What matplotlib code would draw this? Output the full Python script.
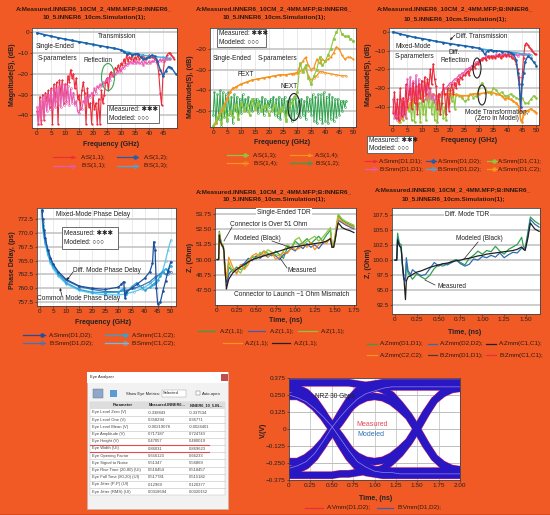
#!/usr/bin/env python
# coding: utf-8

import numpy as np
import matplotlib
matplotlib.use('Agg')
import matplotlib.pyplot as plt
from matplotlib.patches import Ellipse, Rectangle

W, H = 550, 515
ORANGE = '#F15A25'
RED = '#EC2B3C'
PINK = '#E85BB0'
BLUE = '#1F5FA8'
SKY = '#3DAEE0'
LIME = '#8CC63F'
GREEN = '#2FA24B'
AMBER = '#F7941E'
TITLE_A = 'A:Measured.INNER6_10CM_2_4MM.MFP;B:INNER6_'
TITLE_B = '10_5.INNER6_10cm.Simulation(1);'

# single-ended through and reflection
s11_meas = [-38, -44, -31, -44, -30, -42, -29, -33, -28, -36,
            -27, -44, -25, -33, -24, -44, -23, -30, -23, -34,
            -25, -33, -21, -24, -18, -22, -20, -27, -22, -32,
            -30, -37, -28, -24, -29, -44, -27, -36, -34, -44,
            -30, -37, -34, -44, -32, -44, -28, -34, -30, -24,
            -22, -28, -20, -19, -21, -20, -17, -18, -16, -18,
            -15, -16, -13, -15, -11, -14, -12, -13, -11, -14,
            -12, -13, -11, -13, -12, -12, -11, -13, -13, -12,
            -11, -12, -12, -12, -13, -13, -15, -20, -29, -35,
            -20, -14, -12, -11, -10, -10, -11, -12, -13]
s11_sim = [-36, -44, -33, -42, -31, -40, -30, -38, -30, -37,
           -28, -37, -27, -36, -27, -35, -26, -36, -25, -35,
           -25, -34, -26, -35, -27, -34, -29, -35, -33, -38,
           -39, -36, -37, -33, -34, -31, -33, -30, -31, -29,
           -30, -27, -29, -26, -27, -25, -26, -24, -25, -23,
           -23, -22, -23, -21, -21, -20, -20, -19, -19, -18,
           -19, -17, -17, -16, -16, -15, -15, -14, -15, -15,
           -14, -15, -14, -15, -15, -14, -16, -14, -15, -15,
           -14, -15, -14, -14, -14, -13, -15, -14, -13, -14,
           -13, -14, -13, -13, -13, -13]
s12_freq = [0, 2.5, 5, 7.5, 10, 12.5, 15, 17.5, 20, 22.5, 25, 27.5, 30, 31, 32, 33, 34, 35, 36, 37,
            38, 39, 40, 41, 42, 43, 44, 45, 46, 47, 48, 49.5]
s12_meas = [-0.3, -1.2, -1.9, -2.7, -3.3, -4.0, -4.6, -5.2, -5.9, -6.5, -7.1, -7.7, -8.5, -9.3, -10.3,
            -10.2, -11, -10.5, -10.3, -12, -13, -12.5, -12, -11, -11.5, -14, -18, -21, -18.5, -16.5, -17, -20]
s13_freq = [0, 2.5, 5, 7.5, 10, 12.5, 15, 17.5, 20, 22.5, 25, 27.5, 30, 32.5, 35, 37.5, 40, 42.5, 45, 47.5]
s13_sim = [-0.3, -1.2, -1.9, -2.7, -3.4, -4.0, -4.7, -5.3, -6.0, -6.6, -7.2, -7.8, -8.5, -9.7, -10.5,
           -11, -11.5, -11.8, -12.1, -12.6]

# crosstalk
xt_freq = [0, 1, 2, 3, 4, 5, 6, 7, 8, 10, 12, 14, 16, 18, 20, 22, 24, 26, 28, 29, 30, 31, 32, 33, 34,
           35, 36, 37, 38, 39, 40, 41, 42, 43, 44, 45, 46, 47, 48, 49, 50]
fext_meas = [-58, -56, -52, -50, -47, -44, -41, -39, -38.5, -37, -36, -35, -34.5, -34, -33.5, -33, -32.5, -32.5,
             -32, -32, -31.5, -28, -26, -24, -28, -30, -29, -25, -27, -25, -26, -25, -24, -22, -19, -20, -23,
             -25, -24, -24, -25]
fext_sim_freq = [0, 1, 2, 3, 4, 5, 6, 7, 8, 10, 12, 14, 16, 18, 20, 22, 24, 26, 28, 30, 31, 32, 33, 34, 35,
                 36, 37, 38, 39, 40, 42, 44, 46, 47.5]
fext_sim = [-58, -56, -52, -50, -47, -44, -41, -39, -38.5, -37, -36, -35, -34.5, -34, -33.5, -33, -32.5, -32.5,
            -32, -31.5, -31, -30, -29, -33, -35, -34, -33, -31, -31, -31.5, -32, -32.5, -33, -33]
next_meas = [-57, -55, -52, -56, -48, -54, -50, -53, -47, -54,
             -46, -50, -47, -52, -44, -49, -46, -50, -48, -47,
             -52, -49, -47, -51, -50, -48, -55, -47, -46, -43,
             -41, -27, -31, -28, -34, -37, -33, -30, -24, -28,
             -26, -23, -20, -15, -12, -9, -13, -14, -14, -15, -16]
next_sim = [-52, -41, -56, -42, -54, -40, -57, -41, -53, -42, -55, -41, -52, -43, -56, -42, -50, -43, -54, -44,
            -51, -42, -49, -44, -50, -43, -49, -45, -50, -44, -48, -44, -51, -45, -49, -43, -52, -44, -50, -45,
            -48, -44, -50, -43, -52, -44, -53, -43, -54, -44, -50, -43, -54, -45, -52, -44, -55, -44, -54, -43,
            -51, -45, -53, -44, -52, -45, -54, -43, -50, -44, -52, -42, -55, -43, -56, -42, -54, -42, -56, -41,
            -55, -43, -56, -42, -54, -43, -55, -44, -53, -44, -52, -45, -50, -45, -48, -45]

# mixed-mode
sdd11_meas = [-43, -32, -46, -36, -47, -30, -45, -35, -44, -28,
              -40, -33, -30, -41, -27, -38, -29, -44, -28, -35,
              -26, -37, -24, -33, -25, -30, -20, -28, -17, -25,
              -29, -41, -33, -44, -38, -28, -33, -44, -30, -42,
              -31, -28, -33, -27, -30, -25, -28, -24, -25, -23,
              -23, -22, -21, -23, -20, -20, -18, -19, -17, -17,
              -16, -15, -15, -14, -14, -15, -13, -14, -13, -14,
              -13, -14, -13, -13, -12, -14, -13, -13, -12, -13,
              -12, -13, -13, -14, -14, -15, -17, -20, -24, -42,
              -24, -14, -7, -6, -7, -8, -9, -10, -11, -12, -12]
sdd11_sim = [-36, -46, -38, -47, -40, -46, -36, -45, -37, -46,
             -25, -36, -24, -35, -26, -37, -23, -36, -25, -35,
             -26, -37, -27, -36, -28, -35, -30, -36, -33, -38,
             -34, -35, -33, -34, -32, -31, -30, -30, -29, -28,
             -27, -27, -26, -25, -25, -24, -23, -23, -22, -22,
             -21, -20, -20, -19, -19, -18, -18, -17, -16, -16,
             -15, -15, -14, -14, -14, -13, -13, -13, -13, -13,
             -13, -13, -12, -13, -12, -13, -12, -12, -12, -13,
             -12, -12, -12, -12, -13, -12, -12, -13, -12, -12,
             -12, -12, -12, -12, -12, -12]
sdd12_freq = [0, 2.5, 5, 7.5, 10, 12.5, 15, 17.5, 20, 22.5, 25, 27.5, 30, 31, 32, 33, 34, 35, 36, 38, 40, 41,
              42, 43, 43.5, 44, 44.5, 45, 45.5, 46, 47, 48, 49, 50]
sdd12_meas = [0, -1.1, -2, -2.9, -3.5, -4.2, -5, -5.7, -6.3, -6.9, -7.4, -8, -8.7, -9.5, -12, -10, -9.6, -10, -10,
              -10.5, -10.5, -11, -12, -15, -22, -28, -40, -28, -22, -16, -13, -14, -16, -18]
sdd12_sim_freq = [0, 2.5, 5, 7.5, 10, 12.5, 15, 17.5, 20, 22.5, 25, 27.5, 30, 32.5, 35, 37.5, 40, 42.5, 45, 48]
sdd12_sim = [0, -1.1, -2, -2.9, -3.6, -4.3, -5, -5.6, -6.3, -6.9, -7.5, -8.1, -8.8, -9.4, -10, -10.3, -10.6, -11,
             -11.6, -12.5]
sdc_freq = [2, 2.5, 3, 3.5, 4, 4.5, 5, 5.5, 6, 6.5, 7, 7.5, 8, 8.5, 9, 9.5, 10, 10.5, 11, 11.5, 12, 12.5, 13, 13.5,
            14, 14.5, 15, 15.5, 16, 16.5, 17, 17.5, 18, 18.5, 19, 19.5, 20, 20.5, 21, 21.5, 22, 23, 24, 25, 26,
            27, 28, 29, 30, 31, 32, 33, 34, 35, 36, 37, 38, 39, 40, 41, 42, 43, 44, 45, 46, 47, 48, 49, 50]
sdc_meas = [-46, -48, -42, -47, -40, -46, -37, -42, -39, -47, -36, -48, -35, -41, -38, -48, -33, -44, -36, -47,
            -33, -40, -30, -44, -33, -47, -36, -48, -38, -44, -33, -46, -40, -47, -31, -38, -30, -37, -32, -41,
            -33, -34, -35, -37, -36, -33, -35, -34, -30, -27, -30, -32, -33, -30, -31, -33, -32, -34, -34, -33,
            -34, -35, -36, -35, -38, -38, -36, -34, -35]
scd_freq = [2, 3, 4, 5, 6, 7, 8, 10, 12, 14, 16, 18, 20, 22, 24, 26, 28, 30, 32, 34, 36, 38, 39, 40, 41, 42, 43,
            44, 44.5, 45, 45.5, 46, 47, 48, 49, 50]
scd_meas = [-48, -46, -43, -41, -38, -37, -36, -34.5, -34, -33.5, -34, -33, -33, -33.5, -34, -34, -33, -33,
            -32.5, -32, -33, -34, -36, -35, -36, -37, -38, -40, -47, -48, -44, -42, -42, -41, -42, -43]

# phase delay
pd_freq = [0.8, 1, 1.5, 2, 3, 4, 5, 7, 10, 15, 20, 25, 30, 31, 32, 32.5, 33, 35, 37, 40, 42, 43, 43.5, 44, 44.5,
           45, 46, 47, 48, 49, 50]
pd_diff_meas = [774.2, 772.5, 770.5, 769, 767, 765.5, 764.4, 763, 761.6, 760.4, 760, 759.8, 760.2, 760.7, 761.2,
                758.3, 759.4, 760, 760.7, 761.8, 763, 764.5, 768.4, 767, 760, 757.2, 757.5, 759.5, 761.3, 763.2,
                764.8]
pd_comm_meas = [774, 771.5, 769.8, 768.3, 766.3, 765, 764, 762.5, 761, 759.8, 759.3, 759.2, 759.3, 759.6, 760,
                758.8, 759, 760.3, 761, 759.6, 760.2, 760.6, 760.8, 761, 761.2, 761.5, 762.2, 763, 763.5,
                763.2, 764]
pd_sim_freq = [0.8, 1, 1.5, 2, 3, 4, 5, 7, 10, 15, 20, 25, 30, 33, 36, 39, 42, 44, 46, 47, 48, 49, 50]
pd_diff_sim = [774, 772, 770.2, 768.8, 766.8, 765.3, 764.2, 762.7, 761.4, 760.3, 759.8, 759.4, 759.4, 759.6, 760,
               760.5, 761.2, 762, 762.6, 763, 762.5, 762.6, 763]
pd_comm_sim = [774, 771, 769.3, 768, 766, 764.6, 763.6, 762.2, 760.8, 759.6, 759.1, 758.8, 758.8, 759, 759.4,
               759.9, 760.8, 761.6, 762.6, 763.3, 765, 767, 768.7]

# single-ended TDR
tdr_time = [0, 0.02, 0.03, 0.04, 0.06, 0.08, 0.09, 0.10, 0.12, 0.13, 0.15,
            0.2, 0.25, 0.3, 0.35, 0.4, 0.45, 0.5, 0.55, 0.6, 0.65, 0.7, 0.75, 0.8, 0.85, 0.9, 0.95, 1.0, 1.05,
            1.1, 1.15, 1.2, 1.25, 1.3, 1.35, 1.4, 1.45,
            1.47, 1.49, 1.51, 1.53, 1.55, 1.6, 1.65, 1.7, 1.75]
z_green = [50, 50, 52.3, 51.8, 51.3, 51.1, 50.5, 49.2, 48.6, 48.3, 49.4,
           49.0, 49.4, 49.2, 49.3, 49.9, 50.2, 50.2, 50.4, 50.7, 50.5, 50.3, 50.7, 50.4, 50.1, 51.0, 50.9, 51.5,
           51.2, 51.4, 51.7, 51.3, 51.6, 51.9, 51.5, 52.0, 52.4,
           51.2, 51.2, 51.8, 52.8, 53.6, 53.2, 53.0, 52.85, 52.7]
z_blue = [50, 50, 52.0, 51.6, 51.2, 51.0, 50.4, 49.0, 48.3, 48.1, 48.8,
          49.2, 48.9, 49.5, 49.7, 50.1, 49.9, 50.3, 50.1, 50.4, 50.2, 50.5, 50.3, 50.0, 50.4, 50.6, 50.9, 50.7,
          51.1, 50.9, 51.3, 51.0, 51.2, 50.9, 51.3, 51.5, 51.7,
          51.0, 51.0, 51.6, 52.4, 53.2, 53.0, 52.8, 52.65, 52.5]
z_lime = [50, 50, 52.2, 51.7, 51.2, 51.2, 50.6, 49.3, 48.5, 48.8, 49.8,
          49.0, 49.2, 48.9, 49.5, 49.9, 50.3, 50.0, 50.6, 50.4, 50.8, 50.6, 50.4, 50.3, 50.7, 51.2, 51.0, 51.6,
          51.8, 51.2, 51.5, 51.7, 51.9, 51.5, 51.8, 52.2, 52.6,
          51.3, 51.1, 52.0, 53.0, 53.7, 53.3, 53.1, 52.95, 52.8]
z_amber = [50, 50, 52.1, 51.6, 51.1, 51.0, 50.5, 48.8, 48.4, 49.0, 50.2,
           49.4, 48.8, 49.6, 49.2, 49.6, 50.3, 50.5, 50.2, 50.7, 50.2, 50.6, 50.0, 50.2, 50.6, 50.5, 51.0, 50.8,
           50.9, 51.3, 51.0, 51.4, 50.8, 51.2, 51.5, 51.3, 51.8,
           51.0, 51.0, 51.7, 52.6, 53.4, 53.1, 52.9, 52.75, 52.6]
z_model = [50, 50, 52.0, 51.5, 51.2, 51.0, 50.6, 49.5, 47.6, 47.9, 48.4,
           48.9, 49.2, 49.4, 49.6, 49.8, 50.0, 50.1, 50.2, 50.3, 50.4, 50.5, 50.6, 50.7, 50.8, 50.9, 51.0, 51.05,
           51.1, 51.15, 51.2, 51.25, 51.3, 51.35, 51.4, 51.5, 51.7,
           51.0, 51.0, 51.6, 52.4, 53.0, 52.6, 52.45, 52.35, 52.2]

# differential TDR
zdd_time = [0, 0.02, 0.03, 0.05, 0.07, 0.09, 0.10, 0.12, 0.13, 0.15, 0.18,
            0.2, 0.25, 0.3, 0.35, 0.4, 0.45, 0.5, 0.55, 0.6, 0.65, 0.7, 0.75, 0.8, 0.85, 0.9, 0.95, 1.0, 1.05,
            1.1, 1.15, 1.2, 1.25, 1.3, 1.35, 1.4, 1.45,
            1.47, 1.49, 1.52, 1.55, 1.6, 1.65]
zdd_green = [100, 100, 104.5, 102.8, 102.6, 98.4, 97, 96.8, 99.5, 97.8, 97.3,
             96.8, 97.7, 97.2, 96.8, 97.5, 98.6, 99.2, 99.0, 99.4, 99.8, 100.1, 99.6, 99.2, 100.3, 100.8, 101.5,
             101.0, 101.6, 101.4, 102.3, 101.5, 101.0, 101.8, 102.2, 102.6, 103.8,
             102.3, 102.0, 104.5, 107.2, 106.5, 106.0]
zdd_blue = [100, 100, 103.8, 102.5, 102.2, 98.2, 96.8, 96.5, 100.4, 98.2, 97.6,
            98.4, 97.8, 97.4, 97.6, 98.6, 99.6, 99.0, 99.4, 99.2, 99.6, 100.0, 99.4, 99.0, 99.3, 100.2, 100.0,
            100.6, 100.4, 100.8, 100.5, 101.2, 100.4, 100.9, 101.3, 101.2, 102.0,
            102.0, 101.8, 104.0, 106.8, 106.0, 105.5]
zdd_model = [100, 100, 103.4, 102.4, 102.0, 98.6, 97.5, 93.4, 96.5, 97.2, 97.4,
             97.6, 98.0, 98.2, 98.5, 98.8, 99.0, 99.2, 99.4, 99.5, 99.7, 99.9, 100.0, 100.2, 100.3, 100.5, 100.7,
             100.8, 101.0, 101.1, 101.2, 101.3, 101.4, 101.5, 101.6, 101.8, 102.2,
             101.8, 101.6, 103.6, 106.2, 105.2, 104.8]

# eye traces, 0 to 2 ns
eye_time = [0, 0.1, 0.2, 0.3, 0.4, 0.5, 0.6, 0.7, 0.8, 0.9, 1.0, 1.1, 1.2, 1.3, 1.4, 1.5, 1.6, 1.7, 1.8, 1.9, 2.0]
eye_lo_hi_lo = [-0.30, -0.30, -0.27, -0.21, -0.12, -0.01, 0.09, 0.15, 0.20, 0.23, 0.24, 0.23, 0.20, 0.15, 0.09,
                -0.01, -0.12, -0.21, -0.27, -0.30, -0.30]
eye_hi_lo_hi = [0.30, 0.30, 0.27, 0.21, 0.12, 0.01, -0.09, -0.15, -0.20, -0.23, -0.24, -0.23, -0.20, -0.15, -0.09,
                0.01, 0.12, 0.21, 0.27, 0.30, 0.30]
eye_rise_rise = [-0.24, -0.24, -0.21, -0.16, -0.09, 0.0, 0.11, 0.21, 0.28, 0.32, 0.33, 0.34, 0.34, 0.34, 0.34,
                 0.34, 0.34, 0.34, 0.34, 0.34, 0.34]
eye_fall_fall = [0.24, 0.24, 0.21, 0.16, 0.09, 0.0, -0.11, -0.21, -0.28, -0.32, -0.33, -0.34, -0.34, -0.34, -0.34,
                 -0.34, -0.34, -0.34, -0.34, -0.34, -0.34]
eye_hi_fall = [0.34, 0.34, 0.34, 0.34, 0.34, 0.34, 0.34, 0.34, 0.33, 0.32, 0.31, 0.29, 0.25, 0.18, 0.10, 0.0,
               -0.11, -0.21, -0.26, -0.29, -0.30]
eye_lo_rise = [-0.34, -0.34, -0.34, -0.34, -0.34, -0.34, -0.33, -0.33, -0.32, -0.31, -0.31, -0.29, -0.24, -0.18,
               -0.10, 0.0, 0.11, 0.21, 0.26, 0.29, 0.30]
eye_fall_wide = [0.30, 0.28, 0.24, 0.18, 0.11, 0.03, -0.05, -0.14, -0.22, -0.27, -0.30, -0.30, -0.31, -0.31, -0.31,
                 -0.31, -0.31, -0.31, -0.31, -0.31, -0.31]
eye_rise_wide = [-0.30, -0.28, -0.24, -0.18, -0.11, -0.03, 0.05, 0.14, 0.22, 0.27, 0.30, 0.31, 0.31, 0.31, 0.31,
                 0.31, 0.31, 0.31, 0.31, 0.31, 0.31]
eye_streak_down = [0.25, 0.23, 0.20, 0.15, 0.09, 0.02, -0.07, -0.16, -0.24, -0.28, -0.31, -0.32, -0.32, -0.33, -0.33,
                   -0.33, -0.33, -0.33, -0.33, -0.33, -0.33]
eye_streak_up = [-0.29, -0.27, -0.24, -0.18, -0.09, 0.01, 0.09, 0.16, 0.22, 0.26, 0.28, 0.30, 0.31, 0.31, 0.31,
                 0.31, 0.31, 0.31, 0.31, 0.31, 0.31]

# eye analyzer table
eye_rows = ['Eye Level Zero (V)', 'Eye Level One (V)', 'Eye Level Mean (V)', 'Eye Amplitude (V)', 'Eye Height (V)',
            'Eye Width (UI)', 'Eye Opening Factor', 'Eye Signal to Noise', 'Eye Rise Time (20-80) (UI)',
            'Eye Fall Time (80-20) (UI)', 'Eye Jitter (P-P) (UI)', 'Eye Jitter (RMS) (UI)']
eye_measured = ['-0.338843', '0.358294', '-0.00219078', '0.717187', '0.47057', '0.86031', '0.656123', '5.51347',
                '0.518454', '0.517781', '0.12969', '0.0318694']
eye_modeled = ['-0.337534', '0.36771', '-0.0024401', '0.724743', '0.480019', '0.869623', '0.66233', '5.56869',
               '0.518457', '0.515182', '0.120377', '0.0320152']

plt.rcParams['font.family'] = ['Liberation Sans', 'DejaVu Sans']
fig = plt.figure(figsize=(W / 100, H / 100), dpi=100, facecolor=ORANGE)

# overlay in pixel units for the labels, boxes and hand drawn legends
over = fig.add_axes([0, 0, 1, 1], zorder=10)
over.set_xlim(0, W)
over.set_ylim(H, 0)
over.axis('off')


def make_axes(x0, y0, x1, y1, xlim, ylim, xticks, yticks, xlabels=None, ylabels=None, vgrid='#E2E2E2'):
    ax = fig.add_axes([x0 / W, 1 - y1 / H, (x1 - x0) / W, (y1 - y0) / H], zorder=2)
    ax.set_xlim(xlim)
    ax.set_ylim(ylim)
    ax.set_xticks(xticks)
    ax.set_yticks(yticks)
    if xlabels:
        ax.set_xticklabels(xlabels)
    if ylabels:
        ax.set_yticklabels(ylabels)
    ax.tick_params(labelsize=4.6, length=1.2, width=0.4, pad=1.0, colors='#222222')
    ax.grid(True, axis='y', color='#C9C9C9', lw=1.3)
    ax.grid(True, axis='x', color=vgrid, lw=0.5)
    ax.set_axisbelow(True)
    for s in ax.spines.values():
        s.set_linewidth(0.6)
        s.set_color('#444444')
    return ax


def trace(ax, x, y, color, marker=None, hollow=False, lw=0.8, ms=1.4, every=1):
    ax.plot(x, y, color=color, lw=lw, marker=marker, ms=ms, markevery=every,
            mfc='none' if hollow else color, mew=0.4, solid_joinstyle='round')


def halves(values):
    return np.arange(len(values)) * 0.5


def label(x, y, s, size=4.7, weight='normal', color='#222222', rot=0, ha='center', bg=None):
    kw = {}
    if bg:
        kw['bbox'] = dict(fc=bg, ec='none', pad=0.6)
    over.text(x, y, s, fontsize=size, fontweight=weight, color=color, rotation=rot, ha=ha, va='center', **kw)


def title(cx, y0, y1):
    label(cx, y0, TITLE_A, size=4.6, weight='bold', color='#2A1A10')
    label(cx, y1, TITLE_B, size=4.6, weight='bold', color='#2A1A10')


def legend_entry(x0, x1, y, color, s, tx, marker=None, hollow=False, lw=0.9):
    over.plot([x0, x1], [y, y], color=color, lw=lw)
    if marker:
        over.plot([x1 - 3], [y], marker=marker, ms=2.6, color=color, mfc='none' if hollow else color, mew=0.5)
    label(tx, y, s, size=4.5, ha='left', color='#2A1A10')


def mm_box(x0, y0, x1, y1):
    over.add_patch(Rectangle((x0, y0), x1 - x0, y1 - y0, fc='white', ec='#555555', lw=0.6, zorder=5))
    h = (y1 - y0) / 4
    over.text(x0 + 2, y0 + h * 1.1, 'Measured: ✱✱✱', fontsize=4.7, va='center', zorder=6, color='#222222')
    over.text(x0 + 2, y0 + h * 2.9, 'Modeled: ○○○', fontsize=4.7, va='center', zorder=6, color='#222222')


def ring(cx, cy, w, h, color):
    over.add_patch(Ellipse((cx, cy), w, h, fc='none', ec=color, lw=0.8, zorder=4))


def pointer(x0, y0, x1, y1):
    over.annotate('', xy=(x1, y1), xytext=(x0, y0),
                  arrowprops=dict(arrowstyle='-|>', lw=0.5, color='#222222', mutation_scale=3, shrinkA=0, shrinkB=0))


# single-ended through/reflection
ax = make_axes(32, 28, 177, 128, (-1.8, 50), (-46, 2), range(0, 50, 5), [0, -10, -20, -30, -40],
               ylabels=['0', '−10', '−20', '−30', '−40'])
trace(ax, halves(s11_meas), s11_meas, RED, '*')
trace(ax, halves(s11_sim), s11_sim, PINK, 'o', hollow=True)
trace(ax, s13_freq, s13_sim, SKY, 'o', hollow=True, lw=1.0)
trace(ax, s12_freq, s12_meas, BLUE, 'o', lw=1.0)
title(94, 9, 18)
label(111, 144, 'Frequency (GHz)', size=5, weight='bold')
label(13, 75, 'Magnitude(S), (dB)', size=5, weight='bold', rot=90)
label(117, 37, 'Transmission')
label(55, 47, 'Single-Ended')
label(57, 58, 'S-parameters')
label(98, 61, 'Reflection')
ring(108, 77, 13, 27, '#3AA655')
mm_box(107, 105, 159, 123)
legend_entry(53, 75, 157, RED, 'A:S(1,1);', 81, '*')
legend_entry(117, 138, 157, BLUE, 'A:S(1,2);', 144, 'o')
legend_entry(53, 75, 166, PINK, 'B:S(1,1);', 81, 'o', True)
legend_entry(117, 138, 166, SKY, 'B:S(1,3);', 144, 'o', True)

# single-ended crosstalk
ax = make_axes(210, 28, 356, 127, (-1.1, 51), (-57.7, -9.9), range(0, 55, 5), [-20, -30, -40, -50],
               ylabels=['−20', '−30', '−40', '−50'])
trace(ax, halves(next_sim), next_sim, GREEN, 'o', hollow=True, lw=0.7)
trace(ax, xt_freq, fext_meas, AMBER, '*', lw=0.9)
trace(ax, fext_sim_freq, fext_sim, AMBER, 'o', hollow=True, lw=0.9)
trace(ax, np.arange(len(next_meas)), next_meas, LIME, 'o', lw=0.8, ms=1.8)
title(274, 9, 18)
label(282, 143, 'Frequency (GHz)', size=5, weight='bold')
label(190, 87, 'Magnitude(S), (dB)', size=5, weight='bold', rot=90)
label(232, 58, 'Single-Ended')
label(277, 59, 'S-parameters')
label(246, 75, 'FEXT')
label(289, 86, 'NEXT')
ring(294, 107, 12, 27, '#222222')
mm_box(217, 29, 266, 47)
legend_entry(227, 248, 155, LIME, 'A:S(1,3);', 253, 'o')
legend_entry(290, 312, 155, AMBER, 'A:S(1,4);', 315, '*')
legend_entry(227, 248, 163, AMBER, 'B:S(1,4);', 253, 'o', True)
legend_entry(290, 312, 163, GREEN, 'B:S(1,2);', 315, 'o', True)

# mixed-mode magnitudes
ax = make_axes(389, 28, 539, 125, (-1.4, 50.9), (-49.6, 2.1), range(0, 55, 5), [0, -10, -20, -30, -40],
               ylabels=['0', '−10', '−20', '−30', '−40'])
trace(ax, sdc_freq, sdc_meas, LIME, 'o')
trace(ax, scd_freq, scd_meas, AMBER, 'o', lw=1.2)
trace(ax, halves(sdd11_sim), sdd11_sim, PINK, 'o', hollow=True)
trace(ax, halves(sdd11_meas), sdd11_meas, RED, '*')
trace(ax, sdd12_sim_freq, sdd12_sim, SKY, 'o', hollow=True, lw=1.0)
trace(ax, sdd12_freq, sdd12_meas, BLUE, 'o', lw=1.0)
title(455, 9, 19)
label(469, 141, 'Frequency (GHz)', size=5, weight='bold')
label(369, 75, 'Magnitude(S), (dB)', size=5, weight='bold', rot=90)
label(482, 36, 'Diff. Transmission')
pointer(455, 35, 450, 40)
label(413, 46, 'Mixed-Mode')
label(414, 56, 'S-parameters')
label(454, 52, 'Diff.')
label(455, 61, 'Reflection')
label(497, 112, 'Mode Transformation,')
label(497, 119, '(Zero in Model)')
ring(477, 68, 8, 20, '#222222')
ring(482, 95, 8, 20, '#222222')
mm_box(367, 136, 413, 153)
for yy, row in [(161, [(RED, 'A:Smm(D1,D1);', '*', False), (BLUE, 'A:Smm(D1,D2);', 'o', False), (LIME, 'A:Smm(D1,C1);', 'o', False)]),
                (169, [(PINK, 'B:Smm(D1,D1);', 'o', True), (SKY, 'B:Smm(D1,D2);', 'o', True), (AMBER, 'A:Smm(D1,C2);', 'o', False)])]:
    for (x0, x1, tx), (c, s, m, h) in zip([(365, 377, 379), (426, 436, 438), (487, 497, 498)], row):
        legend_entry(x0, x1, yy, c, s, tx, m, h)

# phase delay
ax = make_axes(37, 208, 176, 306, (-1.15, 52), (756.8, 774.5), range(0, 55, 5),
               [757.5, 760, 762.5, 765, 767.5, 770, 772.5],
               ylabels=['757.5', '760.0', '762.5', '765.0', '767.5', '770.0', '772.5'])
trace(ax, pd_sim_freq, pd_comm_sim, '#5BC5EA', 'o', hollow=True, lw=0.9)
trace(ax, pd_sim_freq, pd_diff_sim, '#3A78B8', 'o', hollow=True, lw=0.9)
trace(ax, pd_freq, pd_comm_meas, '#2AA5DC', 'o', lw=0.9)
trace(ax, pd_freq, pd_diff_meas, '#1D4F9C', 'o', lw=0.9)
label(103, 322, 'Frequency (GHz)', size=5, weight='bold')
label(13, 260, 'Phase Delay, (ps)', size=5, weight='bold', rot=90)
label(93, 214, 'Mixed-Mode Phase Delay')
label(107, 270, 'Diff. Mode Phase Delay')
pointer(73, 272, 67, 280)
label(79, 299, 'Common Mode Phase Delay')
pointer(62, 296, 60, 288)
mm_box(62, 227, 118, 249)
legend_entry(23, 45, 335, '#1D4F9C', 'A:Smm(D1,D2);', 49, 'o')
legend_entry(105, 128, 335, '#2AA5DC', 'A:Smm(C1,C2);', 132, 'o')
legend_entry(23, 45, 343, '#3A78B8', 'B:Smm(D1,D2);', 49, 'o', True)
legend_entry(105, 128, 343, '#5BC5EA', 'B:Smm(C1,C2);', 132, 'o', True)

# single-ended TDR
tdr_ticks = [0, 0.25, 0.5, 0.75, 1.0, 1.25, 1.5, 1.75]
tdr_labels = ['0', '0.25', '0.50', '0.75', '1.00', '1.25', '1.50', '1.75']
ax = make_axes(215, 208, 356, 305, (-0.026, 1.777), (46.3, 54.2), tdr_ticks, [47.5, 48.75, 50, 51.25, 52.5, 53.75],
               xlabels=tdr_labels, ylabels=['47.50', '48.75', '50.00', '51.25', '52.50', '53.75'], vgrid='none')
for z, c in [(z_green, GREEN), (z_blue, '#3A5FB8'), (z_lime, LIME), (z_amber, AMBER), (z_model, '#231F20')]:
    trace(ax, tdr_time, z, c, lw=0.9)
title(274, 192, 200)
label(286, 320, 'Time, (ns)', size=5, weight='bold')
label(190, 257, 'Z, (Ohm)', size=5, weight='bold', rot=90)
label(284, 212, 'Single-Ended TDR', bg='white')
label(269, 224, 'Connector is Over 51 Ohm')
over.plot([232, 224], [227, 241], color='#222222', lw=0.5)
label(257, 238, 'Modeled (Black)')
over.plot([272, 292], [241, 248], color='#222222', lw=0.5)
label(302, 271, 'Measured')
over.plot([287, 280], [268, 258], color='#222222', lw=0.5)
label(292, 295, 'Connector to Launch ~1 Ohm Mismatch')
for x0, x1, tx, yy, c in [(198, 215, 220, 331, GREEN), (248, 265, 270, 331, '#3A5FB8'), (298, 317, 321, 331, LIME),
                          (223, 242, 245, 343, AMBER), (272, 290, 294, 343, '#231F20')]:
    legend_entry(x0, x1, yy, c, 'A:Z(1,1);', tx)

# differential TDR
ax = make_axes(392, 208, 540, 314, (-0.034, 1.66), (91, 108.7), [0, 0.25, 0.5, 0.75, 1.0, 1.25, 1.5],
               [92.5, 95, 97.5, 100, 102.5, 105, 107.5], xlabels=tdr_labels[:7],
               ylabels=['92.5', '95.0', '97.5', '100.0', '102.5', '105.0', '107.5'], vgrid='none')
trace(ax, zdd_time, zdd_green, GREEN, lw=0.9)
trace(ax, zdd_time, zdd_blue, '#2E6DB4', lw=0.9)
trace(ax, zdd_time, zdd_model, '#231F20', lw=0.9)
title(453, 190, 200)
label(465, 332, 'Time, (ns)', size=5, weight='bold')
label(369, 263, 'Z, (Ohm)', size=5, weight='bold', rot=90)
label(467, 214, 'Diff. Mode TDR', bg='white')
label(479, 238, 'Modeled (Black)')
over.plot([478, 464], [242, 259], color='#222222', lw=0.5)
label(452, 286, 'Measured')
over.plot([435, 425], [285, 280], color='#222222', lw=0.5)
for yy, row in [(344, [(GREEN, 'A:Zmm(D1,D1);'), ('#2E6DB4', 'A:Zmm(D2,D2);'), ('#231F20', 'A:Zmm(C1,C1);')]),
                (355, [(AMBER, 'A:Zmm(C2,C2);'), ('#4A3A30', 'B:Zmm(D1,D1);'), (RED, 'B:Zmm(C1,C1);')])]:
    for (x0, x1, tx), (c, s) in zip([(367, 377, 380), (428, 437, 440), (486, 496, 499)], row):
        legend_entry(x0, x1, yy, c, s, tx)

# eye diagram, measured underneath the modeled traces
ax = make_axes(289, 378, 460, 480, (0, 2), (-0.375, 0.375), [0, 0.25, 0.5, 0.75, 1, 1.25, 1.5, 1.75, 2],
               [-0.375, -0.25, -0.125, 0, 0.125, 0.25, 0.375],
               xlabels=['0', '0.25', '0.50', '0.75', '1.00', '1.25', '1.50', '1.75', '2.00'],
               ylabels=['−0.375', '−0.250', '−0.125', '0', '0.125', '0.250', '0.375'], vgrid='#BDBDBD')
ax.grid(True, axis='y', color='#BDBDBD', lw=0.7)
eye_traces = [eye_lo_hi_lo, eye_hi_lo_hi, eye_rise_rise, eye_fall_fall, eye_hi_fall, eye_lo_rise, eye_fall_wide,
              eye_rise_wide]
for v in eye_traces:
    ax.plot(eye_time, v, color='#E84A6A', lw=5.6)
for v in eye_traces:
    ax.plot(eye_time, v, color='#2A17C4', lw=4.9)
for v in [eye_streak_down, eye_streak_up]:
    ax.plot(eye_time, v, color='#8F86E6', lw=0.5)
label(376, 498, 'Time, (ns)', size=5, weight='bold')
label(263, 430, 'V,(V)', size=5, weight='bold', rot=90)
label(335, 397, 'NRZ 30 Gbps')
label(372, 424, 'Measured', size=5, color='#E8475A')
label(371, 434, 'Modeled', size=5, color='#2F6FB5')
legend_entry(305, 323, 508, RED, 'A:Vmm(D1,D2);', 327)
legend_entry(377, 393, 508, '#3A5FB8', 'B:Vmm(D1,D2);', 397)

# eye analyzer window
over.add_patch(Rectangle((87, 372), 141, 137, fc='#F2F2F2', ec='#BBBBBB', lw=0.4))
over.add_patch(Rectangle((87, 372), 141, 11, fc='white', ec='none'))
over.add_patch(Rectangle((221, 374), 7, 7, fc='#C0504D', ec='none'))
label(90, 377, 'Eye Analyzer', size=3.0, ha='left')
over.add_patch(Rectangle((93, 389), 10, 9, fc='#8FA8C8', ec='#5A6E8A', lw=0.3))
over.add_patch(Rectangle((110, 390), 7, 7, fc='#5B9BD5', ec='none'))
label(126, 394, 'Show Eye Metrics:', size=3.0, ha='left')
over.add_patch(Rectangle((162, 390), 24, 7, fc='white', ec='#999999', lw=0.3))
label(163, 393.5, 'Selected', size=3.0, ha='left')
over.add_patch(Rectangle((196, 391), 4, 4, fc='white', ec='#666666', lw=0.3))
label(202, 393.5, 'Auto-open', size=3.0, ha='left')
over.add_patch(Rectangle((90, 402), 135, 93, fc='white', ec='#BBBBBB', lw=0.3))
over.add_patch(Rectangle((90, 402), 135, 7, fc='#DDDDDD', ec='none'))
label(123, 405.5, 'Parameter', size=3.0, weight='bold')
label(167, 405.5, 'Measured.INNER6...', size=2.8, weight='bold')
label(206, 405.5, 'INNER6_10_5.IN...', size=2.8, weight='bold')
for i in range(len(eye_rows)):
    yy = 412.5 + i * 7.2
    if i > 0:
        over.plot([90, 225], [yy - 3.6, yy - 3.6], color='#CCCCCC', lw=0.5)
    label(92, yy, eye_rows[i], size=3.0, ha='left', color='#444444')
    label(148, yy, eye_measured[i], size=3.0, ha='left', color='#444444')
    label(189, yy, eye_modeled[i], size=3.0, ha='left', color='#444444')
over.plot([90, 209], [445, 445], color='#E8474C', lw=0.8)
over.plot([90, 209], [451.5, 451.5], color='#E8474C', lw=0.8)
over.plot([0, W], [513.5, 513.5], color='#D94A18', lw=0.8)

fig.savefig('out.png', dpi=100, facecolor=ORANGE)
plt.close()
